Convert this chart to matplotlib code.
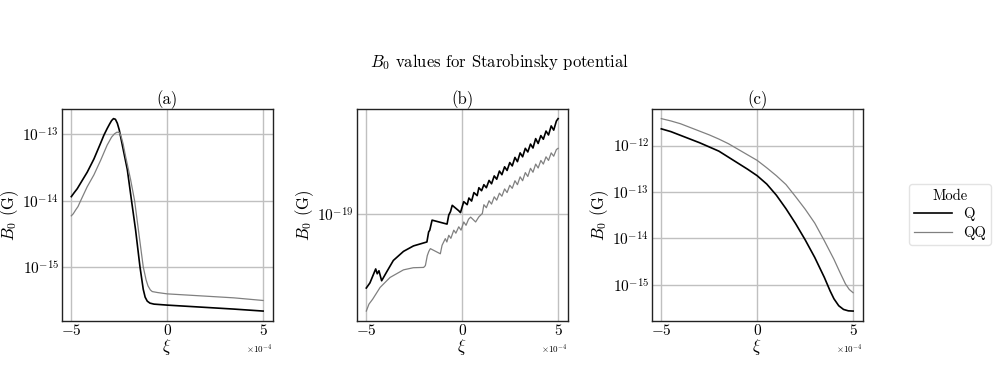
import numpy as np
import matplotlib
matplotlib.use("Agg")
import matplotlib.pyplot as plt
from matplotlib.ticker import NullFormatter

plt.rcParams.update({
    'font.family': 'serif',
    'font.serif': ['cmr10'],
    'mathtext.fontset': 'cm',
    'axes.formatter.use_mathtext': True,
    'font.size': 11,
})

# xi in units of 1e-4, B0 given as log10(B0 / G)
XI_UNIT = 1e-4

# (a)
a_q_xi = [-5.0, -4.85, -4.69, -4.4, -4.17, -3.82, -3.47, -3.3, -3.13, -3.0, -2.9, -2.8, -2.7, -2.6,
          -2.5, -2.34, -2.08, -1.86, -1.65, -1.42, -1.25, -1.15, -1.04, -0.9, -0.69, 0.0, 1.74,
          3.47, 5.0]
a_q_log = [-13.94, -13.88, -13.82, -13.68, -13.57, -13.37, -13.13, -13.01, -12.91, -12.84, -12.79,
           -12.76, -12.77, -12.83, -12.93, -13.16, -13.53, -14.0, -14.44, -15.0, -15.34, -15.46,
           -15.52, -15.55, -15.565, -15.58, -15.61, -15.64, -15.67]
a_qq_xi = [-5.0, -4.9, -4.77, -4.65, -4.51, -4.17, -3.82, -3.47, -3.13, -2.9, -2.75, -2.62, -2.5,
           -2.4, -2.3, -2.17, -1.91, -1.70, -1.48, -1.25, -1.1, -1.0, -0.88, -0.78, -0.5, 0.0,
           1.74, 3.47, 5.0]
a_qq_log = [-14.23, -14.2, -14.14, -14.09, -14.0, -13.79, -13.61, -13.39, -13.16, -13.04, -12.99,
            -12.965, -12.97, -13.03, -13.14, -13.33, -13.68, -14.0, -14.49, -15.0, -15.2, -15.29,
            -15.35, -15.375, -15.39, -15.41, -15.44, -15.47, -15.51]

# (b)
b_q_xi = [-5.0, -4.81, -4.51, -4.43, -4.34, -4.20, -3.93, -3.59, -3.06, -2.54, -1.84, -1.75, -1.69,
          -1.57, -0.79, -0.70, -0.61, -0.52, -0.18, -0.09, 0.08, 0.26, 0.35, 0.49, 0.61, 0.78,
          0.87, 1.01, 1.13, 1.26, 1.40, 1.53, 1.67, 1.80, 1.94, 2.07, 2.21, 2.34, 2.48, 2.61,
          2.75, 2.88, 3.02, 3.15, 3.29, 3.42, 3.56, 3.69, 3.83, 3.96, 4.10, 4.23, 4.37, 4.50,
          4.64, 4.77, 4.91, 5.0]
b_q_log = [-19.243, -19.226, -19.180, -19.196, -19.186, -19.219, -19.189, -19.152, -19.122, -19.104,
           -19.091, -19.058, -19.052, -19.019, -19.032, -19.002, -18.991, -18.970, -18.988, -18.994,
           -18.958, -18.968, -18.946, -18.956, -18.928, -18.938, -18.912, -18.922, -18.902, -18.912,
           -18.888, -18.899, -18.873, -18.884, -18.857, -18.869, -18.843, -18.855, -18.829, -18.840,
           -18.812, -18.826, -18.797, -18.810, -18.782, -18.794, -18.768, -18.781, -18.750, -18.766,
           -18.740, -18.752, -18.725, -18.738, -18.708, -18.722, -18.692, -18.684]
b_qq_xi = [-5.0, -4.86, -4.67, -4.28, -3.76, -3.06, -2.55, -2.01, -1.92, -1.82, -1.74, -1.66, -1.14,
           -1.05, -0.88, -0.80, -0.70, -0.59, -0.44, -0.33, -0.18, -0.06, 0.08, 0.20, 0.33, 0.44,
           0.70, 0.87, 1.05, 1.13, 1.26, 1.40, 1.53, 1.67, 1.80, 1.94, 2.07, 2.21, 2.34, 2.48,
           2.61, 2.75, 2.88, 3.02, 3.15, 3.29, 3.42, 3.56, 3.69, 3.83, 3.96, 4.10, 4.23, 4.37,
           4.50, 4.64, 4.77, 4.91, 5.0]
b_qq_log = [-19.319, -19.296, -19.280, -19.241, -19.208, -19.183, -19.176, -19.175, -19.169, -19.136,
            -19.122, -19.113, -19.130, -19.102, -19.080, -19.091, -19.069, -19.079, -19.052, -19.062,
            -19.041, -19.052, -19.025, -19.036, -19.016, -19.009, -19.025, -19.008, -18.997, -18.968,
            -18.978, -18.955, -18.966, -18.942, -18.953, -18.930, -18.940, -18.916, -18.928, -18.904,
            -18.914, -18.889, -18.902, -18.876, -18.889, -18.862, -18.875, -18.848, -18.861, -18.834,
            -18.847, -18.822, -18.834, -18.810, -18.822, -18.797, -18.808, -18.786, -18.782]

# (c)
c_q_xi = [-5.0, -4.5, -4.0, -3.5, -3.0, -2.5, -2.0, -1.5, -1.0, -0.5, 0.0, 0.5, 1.0, 1.5, 2.0,
          2.5, 3.0, 3.5, 3.8, 4.0, 4.25, 4.5, 4.75, 5.0]
c_q_log = [-11.64, -11.70, -11.78, -11.86, -11.94, -12.03, -12.12, -12.25, -12.38, -12.51, -12.65,
           -12.83, -13.07, -13.36, -13.68, -14.03, -14.41, -14.84, -15.13, -15.30, -15.45, -15.53,
           -15.56, -15.565]
c_qq_xi = [-5.0, -4.5, -4.0, -3.5, -3.0, -2.5, -2.0, -1.5, -1.0, -0.5, 0.0, 0.5, 1.0, 1.5, 2.0,
           2.5, 3.0, 3.5, 4.0, 4.3, 4.6, 4.8, 5.0]
c_qq_log = [-11.42, -11.47, -11.53, -11.61, -11.69, -11.77, -11.86, -11.96, -12.08, -12.20, -12.32,
            -12.48, -12.65, -12.84, -13.10, -13.37, -13.67, -14.05, -14.45, -14.72, -14.98, -15.10,
            -15.17]

panels = [
    ('(a)', a_q_xi, a_q_log, a_qq_xi, a_qq_log),
    ('(b)', b_q_xi, b_q_log, b_qq_xi, b_qq_log),
    ('(c)', c_q_xi, c_q_log, c_qq_xi, c_qq_log),
]
modes = ['Q', 'QQ']
colors = ['black', 'gray']

fig = plt.figure(figsize=(10, 3.83), dpi=100)
lefts = [0.0617, 0.3567, 0.6517]
handles = []
for left, (title, qx, qy, qqx, qqy) in zip(lefts, panels):
    ax = fig.add_axes([left, 0.1627, 0.211, 0.5527])
    l1, = ax.plot(np.array(qx) * XI_UNIT, 10 ** np.array(qy), color=colors[0], lw=1.2)
    l2, = ax.plot(np.array(qqx) * XI_UNIT, 10 ** np.array(qqy), color=colors[1], lw=0.9)
    handles = [l1, l2]
    ax.set_yscale('log')
    ax.set_xticks([-5e-4, 0, 5e-4])
    ax.ticklabel_format(axis='x', style='sci', scilimits=(0, 0))
    ax.xaxis.get_offset_text().set_fontsize(6.5)
    ax.yaxis.set_minor_formatter(NullFormatter())
    ax.tick_params(which='both', length=0, labelsize=11, pad=2)
    ax.grid(True, which='major', color='#c0c0c0', lw=1.0)
    for sp in ax.spines.values():
        sp.set_color('#222222')
        sp.set_linewidth(1.0)
    ax.set_title(title, fontsize=12, pad=1)
    ax.set_xlabel(r'$\xi$', fontsize=12, labelpad=-1)
    ax.set_ylabel(r'$B_0$ (G)', fontsize=12, labelpad=1)

fig.suptitle(r'$B_0$ values for Starobinsky potential', fontsize=12, y=0.865)
fig.legend(handles, modes, title='Mode', loc='center', bbox_to_anchor=(0.95, 0.44),
           fontsize=10.5, title_fontsize=10.5, handlelength=2.6, borderpad=0.35,
           labelspacing=0.3, edgecolor='#dddddd')

fig.savefig('out.png', dpi=100)
